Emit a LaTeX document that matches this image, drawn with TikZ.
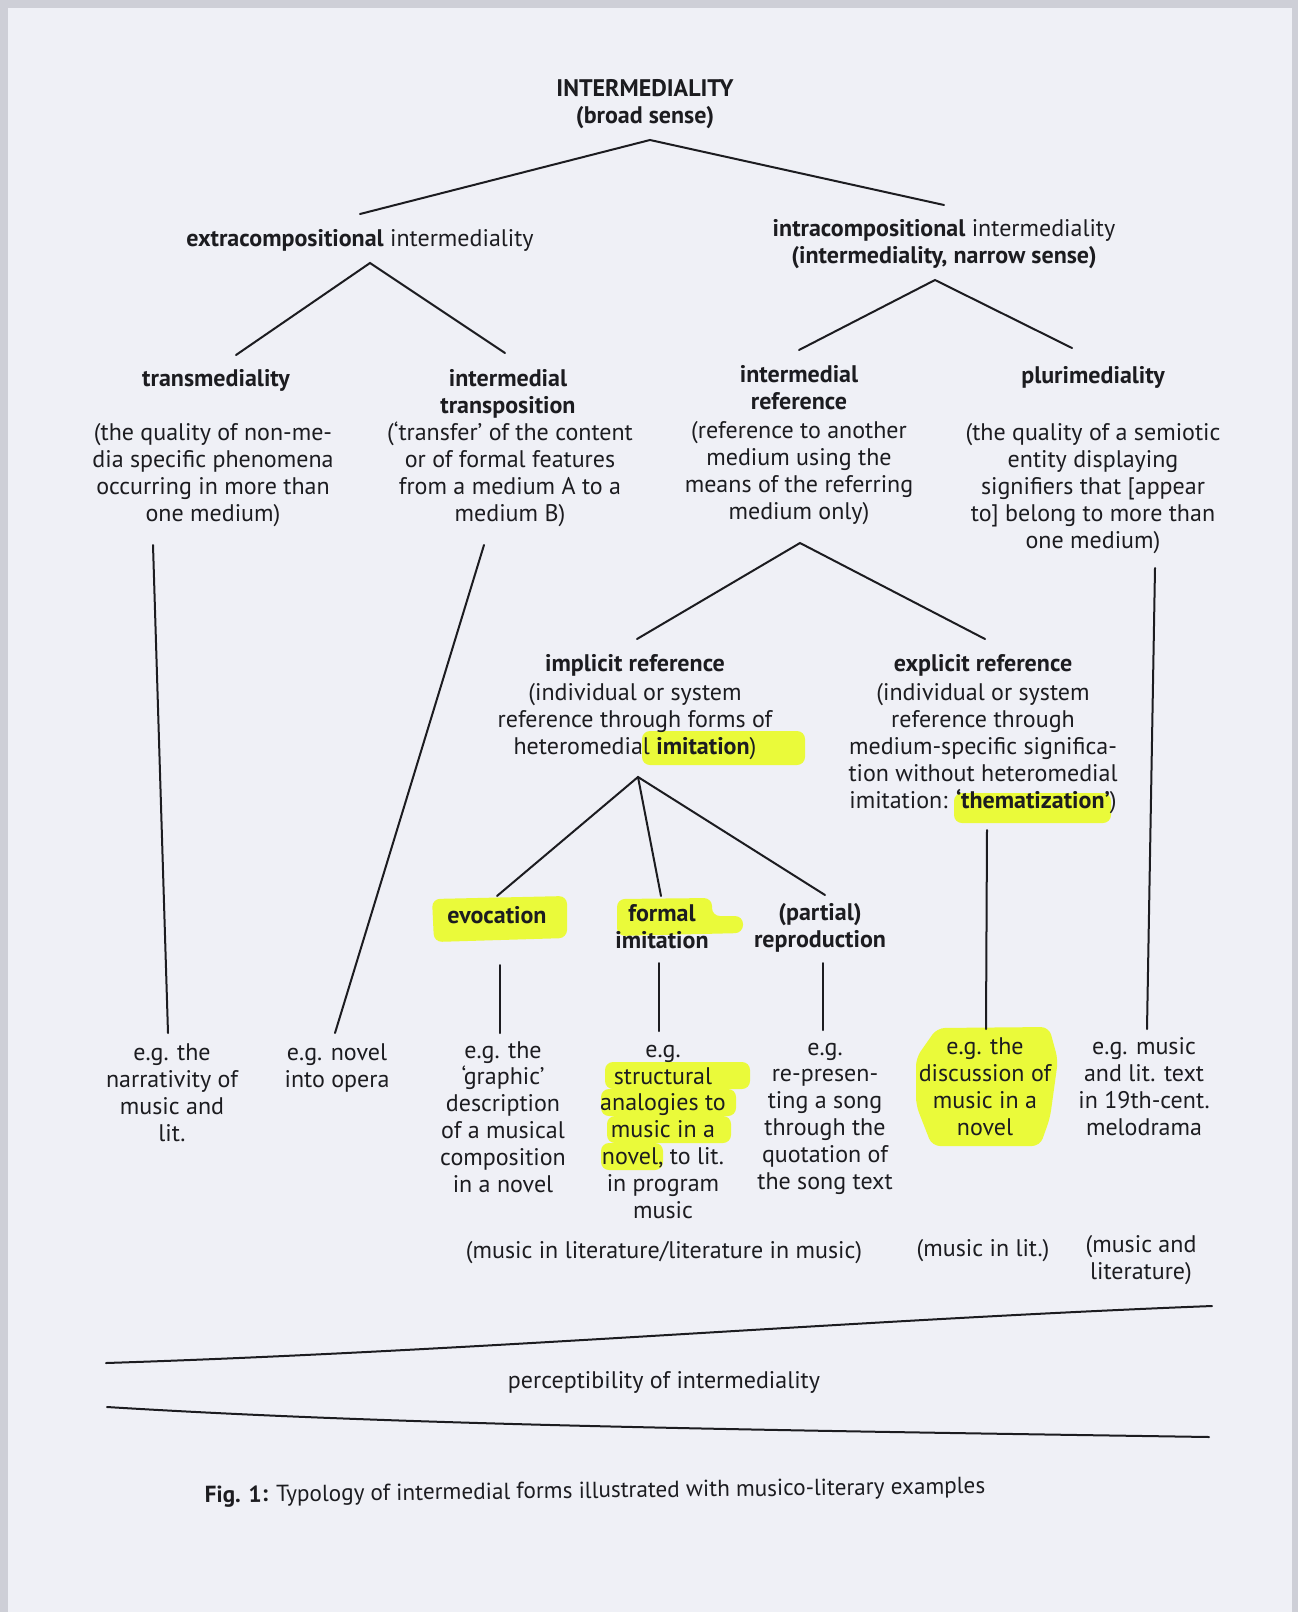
\documentclass[tikz,border=0pt]{standalone}
\usepackage{fontspec}
\setmainfont{PT Sans}
\usepackage{tikz}
\usetikzlibrary{calc}

\definecolor{paper}{RGB}{239, 240, 246}
\definecolor{desk}{RGB}{206, 207, 215}
\definecolor{ink}{RGB}{28, 28, 32}
\definecolor{marker}{RGB}{234, 250, 58}

% multi-line nodes sit on the baseline of their last line
\tikzstyle{txt} = [
  inner sep=0pt,
  align=center,
  anchor=base,
  text=ink,
  font=\fontsize{12}{13.4}\selectfont,
]
\tikzstyle{head} = [txt, font=\fontsize{12}{13.4}\selectfont\bfseries]
\tikzstyle{branch} = [draw=ink, line width=1pt, line cap=round]
\tikzstyle{marked} = [fill=marker, rounded corners=4pt]

\begin{document}
\begin{tikzpicture}[x=0.5pt, y=-0.5pt]

        \useasboundingbox (0,0) rectangle (1298,1612);
        \fill [desk] (0,0) rectangle (1298,1612);
        \fill [paper] (8,8) rectangle (1292,1612);

        % marker strokes (under the text)
        \fill [marked] (642,731) rectangle (805,765);
        \fill [marked] (954,793) rectangle (1111,823);
        \fill [marked] (432,899) -- (567,896) -- (567,938) -- (434,942) -- cycle;
        \fill [marked] (617,899) -- (712,898) -- (712,916) -- (743,916)
              -- (743,933) -- (617,936) -- cycle;
        \fill [marked] (605,1062) rectangle (750,1089);
        \fill [marked] (601,1089) rectangle (736,1116);
        \fill [marked] (607,1116) rectangle (731,1143);
        \fill [marked] (601,1143) rectangle (663,1170);
        \fill [marked] (937,1028) -- (1049,1027) -- (1058,1060) -- (1050,1118)
              -- (1040,1146) -- (932,1146) -- (916,1105) -- (916,1058) -- cycle;

        % labels
        \node [head] (top) at (645, 123) {INTERMEDIALITY\\(broad sense)};

        \node [txt] (extra) at (360, 246) {\textbf{extracompositional} intermediality};
        \node [txt] (intra) at (944, 263)
              {\textbf{intracompositional} intermediality\\\textbf{(intermediality, narrow sense)}};

        \node [head] (trans) at (216, 386) {transmediality};
        \node [txt] (transdesc) at (213, 521)
              {(the quality of non-me-\\dia specific phenomena\\occurring in more than\\one medium)};

        \node [head] (transpos) at (508, 413) {intermedial\\transposition};
        \node [txt] (transposdesc) at (510, 521)
              {(‘transfer’ of the content\\or of formal features\\from a medium A to a\\medium B)};

        \node [head] (intref) at (799, 409) {intermedial\\reference};
        \node [txt] (intrefdesc) at (799, 519)
              {(reference to another\\medium using the\\means of the referring\\medium only)};

        \node [head] (pluri) at (1093, 383) {plurimediality};
        \node [txt] (pluridesc) at (1093, 548)
              {(the quality of a semiotic\\entity displaying\\signifiers that [appear\\to] belong to more than\\one medium)};

        \node [head] (implicit) at (635, 671) {implicit reference};
        \node [txt] (implicitdesc) at (635, 754)
              {(individual or system\\reference through forms of\\heteromedial \textbf{imitation})};

        \node [head] (explicit) at (983, 671) {explicit reference};
        \node [txt] (explicitdesc) at (983, 808)
              {(individual or system\\reference through\\medium-specific significa-\\tion without heteromedial\\imitation: \textbf{‘thematization’})};

        \node [head] (evoc) at (497, 923) {evocation};
        \node [head] (formal) at (662, 948) {formal\\imitation};
        \node [head] (partial) at (820, 947) {(partial)\\reproduction};

        \node [txt] (ex1) at (172, 1141) {e.g. the\\narrativity of\\music and\\lit.};
        \node [txt] (ex2) at (337, 1087) {e.g. novel\\into opera};
        \node [txt] (ex3) at (503, 1192)
              {e.g. the\\‘graphic’\\description\\of a musical\\composition\\in a novel};
        \node [txt] (ex4) at (663, 1218)
              {e.g.\\structural\\analogies to\\music in a\\novel, to lit.\\in program\\music};
        \node [txt] (ex5) at (825, 1189)
              {e.g.\\re-presen-\\ting a song\\through the\\quotation of\\the song text};
        \node [txt] (ex6) at (985, 1135) {e.g. the\\discussion of\\music in a\\novel};
        \node [txt] (ex7) at (1144, 1135) {e.g. music\\and lit. text\\in 19th-cent.\\melodrama};

        \node [txt] (cat1) at (664, 1258) {(music in literature/literature in music)};
        \node [txt] (cat2) at (983, 1256) {(music in lit.)};
        \node [txt] (cat3) at (1141, 1279) {(music and\\literature)};

        \node [txt] (percept) at (664, 1388) {perceptibility of intermediality};

        \node [txt, rotate=0.66, font=\fontsize{11.6}{13.4}\selectfont] (caption) at (595, 1498)
              {\textbf{Fig. 1:} Typology of intermedial forms illustrated with musico-literary examples};

        % tree
        \coordinate (f-top) at (650, 140);
        \coordinate (f-top-l) at (360, 214);
        \coordinate (f-top-r) at (944, 205);
        \draw [branch] (f-top-l) -- (f-top) -- (f-top-r);

        \coordinate (f-extra) at (370, 263);
        \coordinate (f-extra-l) at (236, 355);
        \coordinate (f-extra-r) at (505, 353);
        \draw [branch] (f-extra-l) -- (f-extra) -- (f-extra-r);

        \coordinate (f-intra) at (935, 280);
        \coordinate (f-intra-l) at (799, 350);
        \coordinate (f-intra-r) at (1072, 348);
        \draw [branch] (f-intra-l) -- (f-intra) -- (f-intra-r);

        \coordinate (f-ref) at (800, 543);
        \coordinate (f-ref-l) at (637, 639);
        \coordinate (f-ref-r) at (985, 639);
        \draw [branch] (f-ref-l) -- (f-ref) -- (f-ref-r);

        \coordinate (f-imp) at (638, 777);
        \coordinate (f-imp-l) at (497, 896);
        \coordinate (f-imp-m) at (661, 896);
        \coordinate (f-imp-r) at (825, 895);
        \draw [branch] (f-imp-l) -- (f-imp) -- (f-imp-r);
        \draw [branch] (f-imp) -- (f-imp-m);

        % stems down to the examples
        \coordinate (s1a) at (153, 545);   \coordinate (s1b) at (168, 1033);
        \coordinate (s2a) at (484, 545);   \coordinate (s2b) at (335, 1033);
        \coordinate (s3a) at (500, 965);   \coordinate (s3b) at (500, 1033);
        \coordinate (s4a) at (659, 963);   \coordinate (s4b) at (659, 1031);
        \coordinate (s5a) at (823, 963);   \coordinate (s5b) at (823, 1030);
        \coordinate (s6a) at (987, 830);   \coordinate (s6b) at (986, 1029);
        \coordinate (s7a) at (1155, 568);  \coordinate (s7b) at (1147, 1029);
        \foreach \i in {1,...,7} {
          \draw [branch] (s\i a) -- (s\i b);
        }

        % perceptibility wedge
        \coordinate (w-tl) at (106, 1363);
        \coordinate (w-tr) at (1212, 1306);
        \coordinate (w-bl) at (107, 1407);
        \coordinate (w-br) at (1209, 1437);
        \draw [branch] (w-tl) .. controls (480, 1351) and (850, 1320) .. (w-tr);
        \draw [branch] (w-bl) .. controls (400, 1425) and (750, 1430) .. (w-br);
      \end{tikzpicture}
\end{document}
